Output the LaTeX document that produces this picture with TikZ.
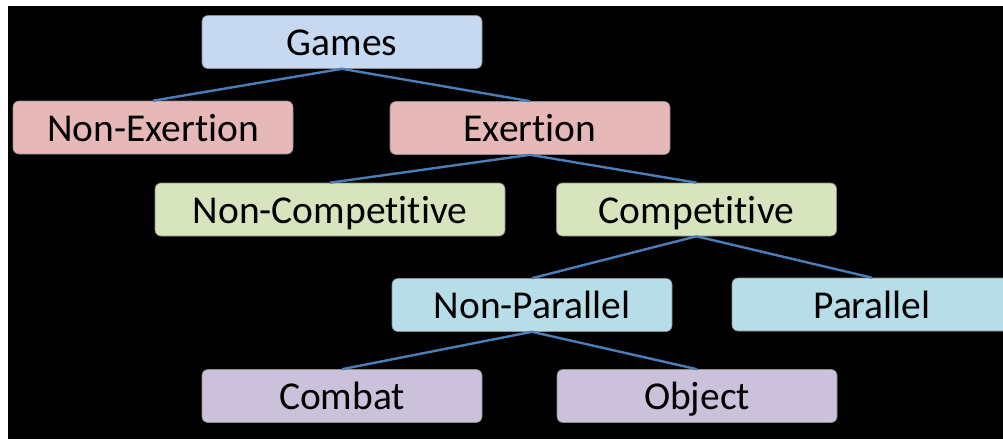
\documentclass[tikz,border=0pt]{standalone}
\usepackage{fontspec}
\setmainfont{Carlito}[Ligatures={NoCommon}]
\definecolor{linkblue}{HTML}{4A7EBB}
\definecolor{fillblue}{HTML}{C6D9F1}
\definecolor{fillrose}{HTML}{E6B9B8}
\definecolor{fillgreen}{HTML}{D7E4BD}
\definecolor{fillcyan}{HTML}{B7DEE8}
\definecolor{fillviolet}{HTML}{CCC1DA}
\tikzset{
  catbox/.style={draw=black!45, line width=0.6pt, rounded corners=6pt,
    minimum width=280pt, minimum height=53pt, inner sep=0pt,
    text height=27pt, text depth=0pt, font=\fontsize{39.5}{42}\selectfont},
  link/.style={draw=linkblue, line width=2.4pt}
}
\begin{document}
\begin{tikzpicture}[x=1pt, y=-1pt]
  \useasboundingbox (0,0) rectangle (1003,439);
  \fill[white] (0,0) rectangle (1003,439);
  \fill[black] (8,6) rectangle (1003,439);

  % category tree
  \node[catbox, fill=fillblue] (games) at (342,42) {Games};
  \node[catbox, fill=fillrose] (nonex) at (153,127.5) {Non-Exertion};
  \node[catbox, fill=fillrose] (ex) at (530,128) {Exertion};
  \node[catbox, fill=fillgreen, minimum width=350pt] (noncomp) at (330,209.5) {Non-Competitive};
  \node[catbox, fill=fillgreen] (comp) at (696.5,209.5) {Competitive};
  \node[catbox, fill=fillcyan] (nonpar) at (532,305) {Non-Parallel};
  \node[catbox, fill=fillcyan] (par) at (872,304.5) {Parallel};
  \node[catbox, fill=fillviolet] (combat) at (342,396) {Combat};
  \node[catbox, fill=fillviolet] (object) at (697,396) {Object};

  % branches
  \draw[link] (games.south) -- (nonex.north);
  \draw[link] (games.south) -- (ex.north);
  \draw[link] (ex.south) -- (noncomp.north);
  \draw[link] (ex.south) -- (comp.north);
  \draw[link] (comp.south) -- (nonpar.north);
  \draw[link] (comp.south) -- (par.north);
  \draw[link] (nonpar.south) -- (combat.north);
  \draw[link] (nonpar.south) -- (object.north);
\end{tikzpicture}
\end{document}
